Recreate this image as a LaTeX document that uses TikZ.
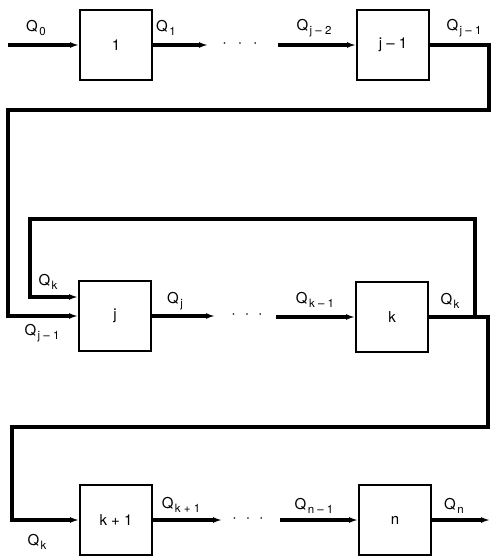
\documentclass[tikz,border=0pt]{standalone}
\usepackage{fontspec}
\setmainfont{TeX Gyre Heros}
\usetikzlibrary{arrows.meta, positioning, calc}

\newcommand{\qflow}[1]{Q\kern1.5pt\raisebox{-0.55ex}{\fontsize{11.5}{12}\selectfont #1}}

\begin{document}
\begin{tikzpicture}[
  x=1pt, y=-1pt,
  box/.style={rectangle, draw, line width=2pt, minimum width=72pt, minimum height=70pt,
              inner sep=0pt, font=\fontsize{15}{17}\selectfont},
  arrow/.style={-{Latex[length=9pt,width=6pt]}, line width=3.2pt},
  lab/.style={inner sep=0pt, font=\fontsize{15}{17}\selectfont},
  dotsep/.style={inner sep=0pt, font=\fontsize{16}{18}\selectfont}
]
\useasboundingbox (0,0) rectangle (491,556);

\node[box] (b1)  at (116,45)  {1};
\node[box] (bj1) at (393,45)  {j -- 1};
\node[box] (bj)  at (115,316) {j};
\node[box] (bk)  at (392,317) {k};
\node[box] (bk1) at (116,520) {k + 1};
\node[box] (bn)  at (395,520) {n};

\coordinate (in0) at (8,45);
\coordinate (o1)  at (208,45);
\coordinate (i1)  at (278,45);
\coordinate (c1)  at (489,45);
\coordinate (c2)  at (489,110);
\coordinate (c3)  at (8,110);
\coordinate (oj)  at (215,316);
\coordinate (ij)  at (276,317);
\coordinate (r2)  at (488,317);
\coordinate (fk)  at (475,317);
\coordinate (t2)  at (30,219);
\coordinate (bjk) at ([yshift=19pt]bj.west);
\coordinate (l3)  at (12,427);
\coordinate (ok)  at (222,520);
\coordinate (in)  at (280,520);
\coordinate (on)  at (490,520);

\draw[arrow] (in0)--(b1);
\draw[arrow] (b1)--(o1);
\node[dotsep] (d1) at (240,45) {·\hspace{11pt}·\hspace{11pt}·};
\draw[arrow] (i1)--(bj1);
\draw[arrow] (bj1)--(c1)--(c2)--(c3)--(c3 |- bj)--(bj);

\draw[arrow] (bj)--(oj);
\node[dotsep] (d2) at (247,316) {·\hspace{9pt}·\hspace{9pt}·};
\draw[arrow] (ij)--(bk);
\draw[arrow] (bk)--(r2)--(r2 |- l3)--(l3)--(l3 |- bk1)--(bk1);
\draw[arrow] (fk)--(fk |- t2)--(t2)--(t2 |- bjk)--(bjk);

\draw[arrow] (bk1)--(ok);
\node[dotsep] (d3) at (248,520) {·\hspace{9pt}·\hspace{9pt}·};
\draw[arrow] (in)--(bn);
\draw[arrow] (bn)--(on);

\node[lab] (q0)  at (36,28)   {\qflow{0}};
\node[lab] (q1)  at (166,28)  {\qflow{1}};
\node[lab] (qj2) at (314,28)  {\qflow{j -- 2}};
\node[lab] (qj1) at (464,28)  {\qflow{j -- 1}};
\node[lab] (qk1) at (48,282)  {\qflow{k}};
\node[lab] (qj1b) at (42,333) {\qflow{j -- 1}};
\node[lab] (qj)  at (175,301) {\qflow{j}};
\node[lab] (qkm) at (315,300) {\qflow{k -- 1}};
\node[lab] (qk2) at (450,301) {\qflow{k}};
\node[lab] (qk3) at (37,542)  {\qflow{k}};
\node[lab] (qkp) at (181,505) {\qflow{k + 1}};
\node[lab] (qnm) at (314,506) {\qflow{n -- 1}};
\node[lab] (qn)  at (454,506) {\qflow{n}};
\end{tikzpicture}
\end{document}
